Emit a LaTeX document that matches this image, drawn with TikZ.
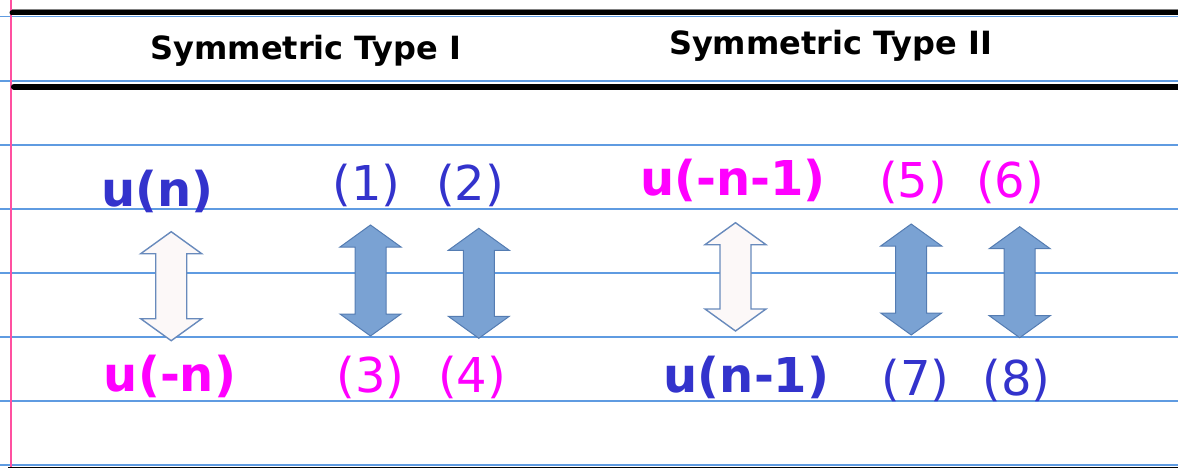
\documentclass[tikz,border=0pt]{standalone}
\usepackage{fontspec}
\setmainfont{DejaVu Sans}
\usetikzlibrary{positioning}

\definecolor{ruleblue}{RGB}{95,155,225}
\definecolor{marginpink}{RGB}{255,80,160}
\definecolor{txtblue}{RGB}{51,51,204}
\definecolor{txtmagenta}{RGB}{255,0,255}
\definecolor{arrowfill}{RGB}{122,162,211}
\definecolor{arrowedge}{RGB}{84,124,178}
\definecolor{hollowfill}{RGB}{252,248,248}
\definecolor{hollowedge}{RGB}{104,138,188}

\tikzset{
  title/.style={anchor=base, inner sep=0pt, font=\fontsize{32}{35}\selectfont\bfseries},
  fn/.style={anchor=base, inner sep=0pt, font=\fontsize{48}{52}\selectfont\bfseries},
  tag/.style={anchor=base, inner sep=0pt, font=\fontsize{48}{52}\selectfont},
  solidarrow/.style={fill=arrowfill, draw=arrowedge, line width=1pt, line join=miter},
  hollowarrow/.style={fill=hollowfill, draw=hollowedge, line width=1.4pt, line join=miter}
}

\begin{document}
\begin{tikzpicture}[x=1pt, y=-1pt]
        \useasboundingbox (0,0) rectangle (1178,468);

        % we draw the ruled paper
        \foreach \yy in {16.5,81,145,209,273,337,401,465}
            \draw[ruleblue, line width=1.3pt] (0,\yy) -- (1178,\yy);
        \draw[marginpink, line width=1.6pt] (11,0) -- (11,468);

        % we draw the table rules
        \draw[gray, line width=0.8pt] (12,9.5) -- (1178,9.5);
        \draw[black, line width=5pt, line cap=round] (12,13) -- (1180,13);
        \draw[black, line width=6pt, line cap=round] (14,86.7) -- (1180,86.7);
        \draw[black, line width=2pt] (8,467.5) -- (1178,467.5);

        % we draw the header
        \node[title] (titleI) at (306,60) {Symmetric Type I};
        \node[title] (titleII) at (830.5,55) {Symmetric Type II};

        % we draw the double block arrows
        \foreach \cx/\tp/\bt/\sty in {171.2/231.7/340.7/hollowarrow, 370.5/225/336/solidarrow,
                                      478.8/228.3/338.3/solidarrow, 735.5/222.7/331/hollowarrow,
                                      911.2/224/335/solidarrow, 1019.7/226.7/337.7/solidarrow}
            \draw[\sty] (\cx,\tp) -- (\cx+30.5,\tp+22) -- (\cx+15.5,\tp+22) -- (\cx+15.5,\bt-22)
                -- (\cx+30.5,\bt-22) -- (\cx,\bt) -- (\cx-30.5,\bt-22) -- (\cx-15.5,\bt-22)
                -- (\cx-15.5,\tp+22) -- (\cx-30.5,\tp+22) -- cycle;

        % we draw type I labels
        \node[fn, txtblue] (uN) at (157.5,206) {u(n)};
        \node[tag, txtblue] (tagA) at (366.5,200) {(1)};
        \node[tag, txtblue] (tagB) at (470,200) {(2)};
        \node[fn, txtmagenta] (uMinusN) at (170,391) {u(-n)};
        \node[tag, txtmagenta] (tagC) at (370.5,392) {(3)};
        \node[tag, txtmagenta] (tagD) at (472,392) {(4)};

        % we draw type II labels
        \node[fn, txtmagenta] (uMinusNm) at (733,195) {u(-n-1)};
        \node[tag, txtmagenta] (tagE) at (913,197) {(5)};
        \node[tag, txtmagenta] (tagF) at (1010,197) {(6)};
        \node[fn, txtblue] (uNm) at (746.5,392) {u(n-1)};
        \node[tag, txtblue] (tagG) at (915.5,395) {(7)};
        \node[tag, txtblue] (tagH) at (1016.5,395) {(8)};
    \end{tikzpicture}
\end{document}
